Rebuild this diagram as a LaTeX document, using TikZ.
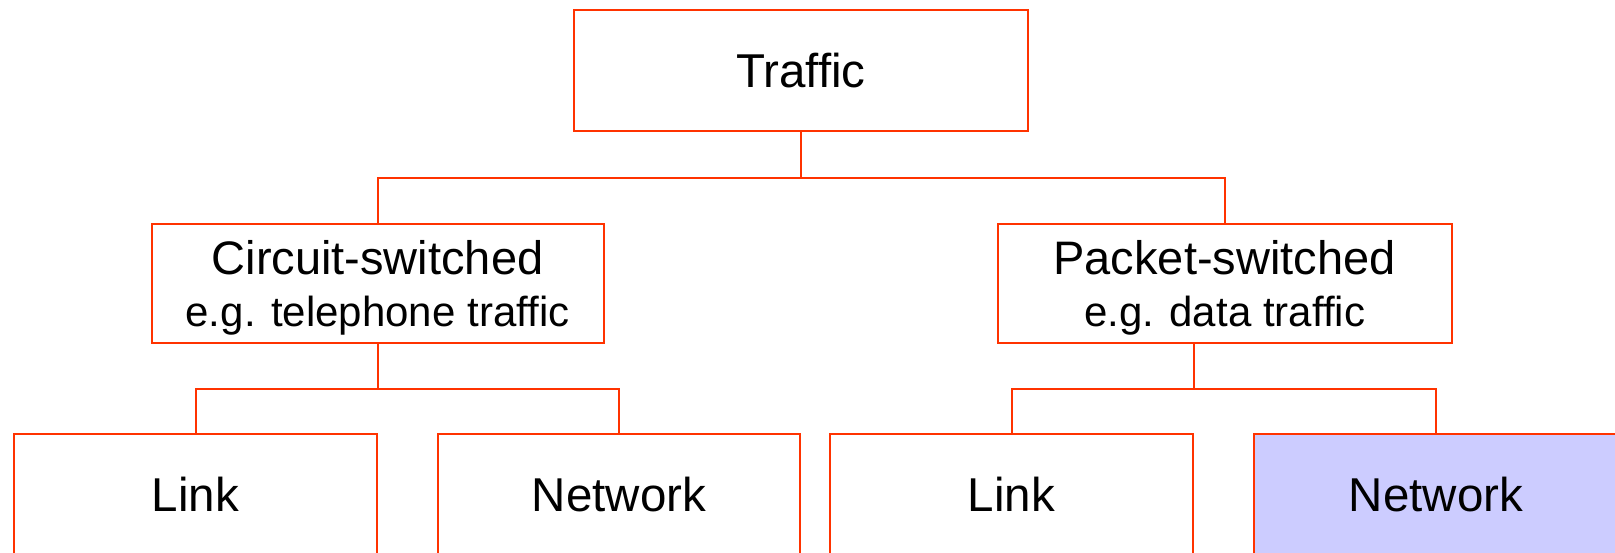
\documentclass[tikz,border=0pt]{standalone}
\usepackage{fontspec}
\setmainfont{Liberation Sans}
\definecolor{boxline}{RGB}{255,51,0}
\definecolor{boxfill}{RGB}{204,204,255}
\newcommand{\egfont}{\fontsize{42}{52.7}\selectfont}

\begin{document}
\begin{tikzpicture}[x=1pt, y=-1pt, line width=2pt,
    every node/.style={font=\fontsize{47.5}{57}\selectfont},
    box/.style={rectangle, draw=boxline, text centered, inner sep=0pt},
    twoline/.style={box, align=center, font=\fontsize{47}{52.7}\selectfont},
    wire/.style={draw=boxline}]

    \clip (0,0) rectangle (1615,552);

    % Top box
    \node (traffic) [box, minimum width=454pt, minimum height=121pt] at (801,70.5) {Traffic};

    % Second level
    \node (circuit) [twoline, minimum width=452pt, minimum height=118.7pt] at (377.5,283.3) {\rule{0pt}{43pt}Circuit-switched\\{\egfont e.g. telephone traffic}};
    \node (packet) [twoline, minimum width=454pt, minimum height=118.7pt] at (1224.5,283.3) {\rule{0pt}{43pt}Packet-switched\\{\egfont e.g. data traffic}};
    \draw[wire] (traffic.south) -- ++(0,46) -| (circuit.north);
    \draw[wire] (traffic.south) -- ++(0,46) -| (packet.north);

    % Bottom level under circuit-switched
    \node (clink) [box, minimum width=363pt, minimum height=122pt] at (195.5,494.7) {Link};
    \node (cnet) [box, minimum width=362pt, minimum height=122pt] at (619,494.7) {Network};
    \draw[wire] (circuit.south) -- ++(0,45.5) -| (clink.north);
    \draw[wire] (circuit.south) -- ++(0,45.5) -| (cnet.north);

    % Bottom level under packet-switched
    \node (plink) [box, minimum width=363pt, minimum height=122pt] at (1011.5,494.7) {Link};
    \node (pnet) [box, fill=boxfill, minimum width=364pt, minimum height=122pt] at (1436,494.7) {Network};
    \draw[wire] ([xshift=-30.5pt]packet.south) -- ++(0,45.5) -| (plink.north);
    \draw[wire] ([xshift=-30.5pt]packet.south) -- ++(0,45.5) -| (pnet.north);

\end{tikzpicture}
\end{document}
